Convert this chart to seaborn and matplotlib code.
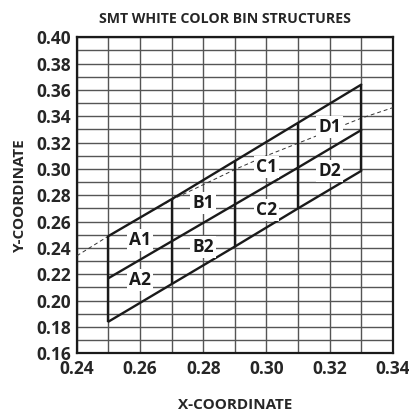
import numpy as np
import pandas as pd
import seaborn as sns
import matplotlib.pyplot as plt
from matplotlib.ticker import MultipleLocator

# Bin boundary vertices (CIE x at each column edge)
x_edges = [0.25, 0.27, 0.29, 0.31, 0.33]
upper_y = [0.249, 0.277, 0.306, 0.335, 0.364]
middle_y = [0.217, 0.245, 0.273, 0.301, 0.3295]
lower_y = [0.184, 0.2125, 0.241, 0.270, 0.2985]

# Black body locus (dashed)
locus_x = [0.24, 0.25, 0.26, 0.27, 0.28, 0.29, 0.30, 0.31, 0.32, 0.33, 0.34]
locus_y = [0.234, 0.249, 0.263, 0.2765, 0.288, 0.2995, 0.310, 0.3195, 0.329, 0.3385, 0.3465]

# Bin labels
bin_names = ['A1', 'A2', 'B1', 'B2', 'C1', 'C2', 'D1', 'D2']
bin_x = [0.26, 0.26, 0.28, 0.28, 0.30, 0.30, 0.32, 0.32]
bin_y = [0.246, 0.2155, 0.274, 0.2405, 0.3015, 0.2685, 0.332, 0.2985]

sns.set_style("white")
plt.rcParams['font.family'] = ['Open Sans', 'DejaVu Sans']
plt.rcParams['font.weight'] = 'bold'

fig = plt.figure(figsize=(4.09, 4.18), dpi=100)
ax = fig.add_axes([0.188, 0.155, 0.7726, 0.756])

bins = pd.DataFrame({'x': x_edges, 'upper': upper_y, 'middle': middle_y, 'lower': lower_y})
for col in ['upper', 'middle', 'lower']:
    sns.lineplot(data=bins, x='x', y=col, ax=ax, color='#1a1a1a', lw=1.7, zorder=4)
ax.vlines(x_edges, lower_y, upper_y, color='#1a1a1a', lw=1.7, zorder=4)

locus = pd.DataFrame({'x': locus_x, 'y': locus_y})
sns.lineplot(data=locus, x='x', y='y', ax=ax, color='#333333', lw=0.7,
             linestyle=(0, (4, 3)), zorder=3)

for name, bx, by in zip(bin_names, bin_x, bin_y):
    ax.text(bx, by, name, ha='center', va='center', fontsize=12.5, fontweight='bold',
            color='#1a1a1a', zorder=5,
            bbox=dict(facecolor='white', edgecolor='none', pad=1.5))

ax.set_xlim(0.24, 0.34)
ax.set_ylim(0.16, 0.40)
ax.xaxis.set_major_locator(MultipleLocator(0.02))
ax.yaxis.set_major_locator(MultipleLocator(0.02))
ax.xaxis.set_minor_locator(MultipleLocator(0.01))
ax.yaxis.set_minor_locator(MultipleLocator(0.01))
ax.grid(which='both', color='#555555', lw=1.0, zorder=1)
ax.set_axisbelow(True)
ax.tick_params(which='both', length=0, labelsize=12.5)
ax.tick_params(axis='x', pad=5)
ax.tick_params(axis='y', pad=4)
ax.set_xticklabels([f'{v:.2f}' for v in ax.get_xticks()], fontweight='bold')
ax.set_yticklabels([f'{v:.2f}' for v in ax.get_yticks()], fontweight='bold')
for s in ax.spines.values():
    s.set_color('#1a1a1a')
    s.set_linewidth(1.6)

ax.set_xlabel('X-COORDINATE', fontsize=11, fontweight='bold', labelpad=14)
ax.set_ylabel('Y-COORDINATE', fontsize=11, fontweight='bold', labelpad=7)
ax.set_title('SMT WHITE COLOR BIN STRUCTURES', fontsize=10.2, fontweight='bold', pad=10, x=0.47)

plt.savefig('out.png', dpi=100)
